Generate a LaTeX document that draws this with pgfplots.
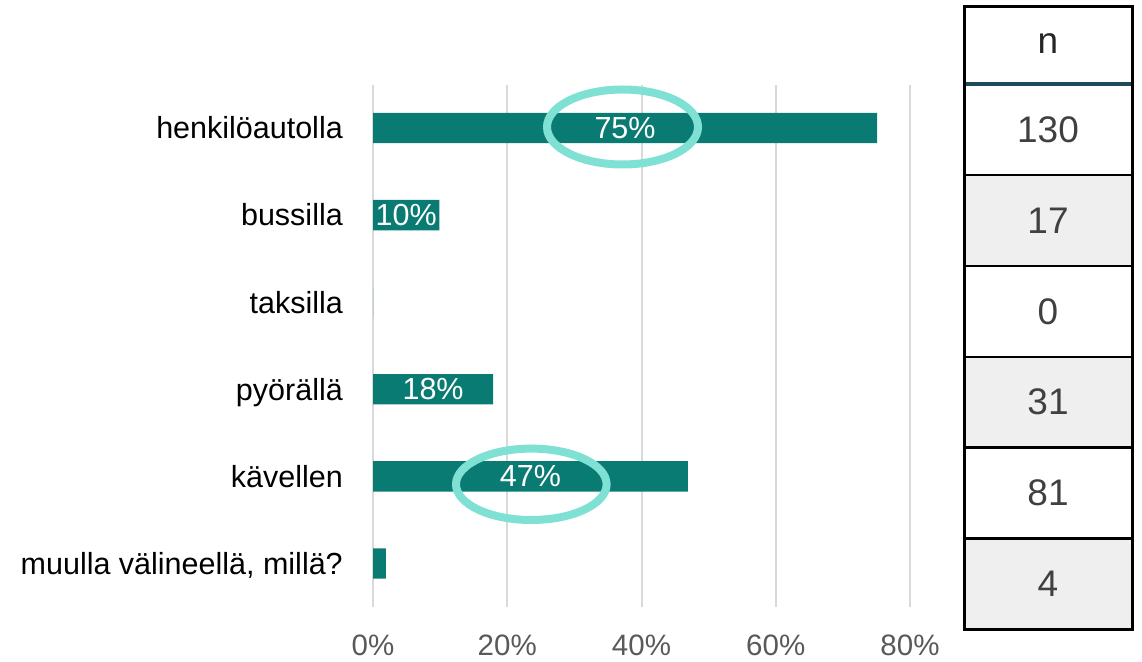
\documentclass[border=0pt]{standalone}
\usepackage{fontspec}
\setmainfont{Liberation Sans}
\usepackage{pgfplots}
\pgfplotsset{compat=1.18}
\definecolor{barteal}{HTML}{0A7B73}
\definecolor{ring}{HTML}{7FE0D4}
\definecolor{gridc}{HTML}{D9D9D9}
\definecolor{tickc}{HTML}{595959}
\definecolor{rowgray}{HTML}{EFEFEF}
\definecolor{hdrline}{HTML}{1D4B5B}
\definecolor{tabtext}{HTML}{404040}
\begin{document}
\begin{tikzpicture}[x=1pt,y=1pt]
\useasboundingbox (0,0) rectangle (1142,661);
\begin{axis}[
  at={(373pt,54pt)}, anchor=south west, scale only axis,
  width=537pt, height=522.5pt,
  xmin=0, xmax=80, ymin=-0.5, ymax=5.5, y dir=reverse,
  axis line style={draw=none}, tick style={draw=none},
  xmajorgrids, major grid style={gridc, line width=2pt},
  xtick={0,20,40,60,80}, xticklabels={0\%,20\%,40\%,60\%,80\%},
  xticklabel style={font=\fontsize{29.5}{34}\selectfont, text=tickc, anchor=base, inner sep=0pt, yshift=-48pt},
  ytick={0,1,2,3,4,5},
  yticklabels={henkilöautolla,bussilla,taksilla,pyörällä,kävellen,{muulla välineellä, millä?}},
  yticklabel style={font=\fontsize{30.5}{36}\selectfont, text=black, anchor=base east, inner sep=0pt, xshift=-30pt, yshift=-10.8pt},
  clip=false,
]
\addplot[xbar, bar width=30.4pt, bar shift=0pt, fill=barteal, draw=none]
  coordinates {(75.1,0) (9.9,1) (0,2) (17.9,3) (46.9,4) (1.9,5)};
\addplot[draw=none, mark=none, nodes near coords, point meta=explicit symbolic,
  nodes near coords align={center},
  every node near coord/.append style={text=white, font=\fontsize{30.5}{36}\selectfont, inner sep=0pt, anchor=center}]
  coordinates {(37.55,0) [75\%] (4.95,1) [10\%] (8.95,3) [18\%] (23.45,4) [47\%]};
\end{axis}
% highlight rings
\draw[ring, line width=8pt] (622.5,534) ellipse [x radius=75.5pt, y radius=37.5pt];
\draw[ring, line width=8pt] (531.3,176.7) ellipse [x radius=75.3pt, y radius=35.7pt];
% n table
\fill[rowgray] (964,395) rectangle (1132,486);
\fill[rowgray] (964,213.5) rectangle (1132,304);
\fill[rowgray] (964,32) rectangle (1132,122.7);
\foreach \yy in {486,395,304,213.5,122.7} \draw[black, line width=2.5pt] (964,\yy) -- (1132,\yy);
\draw[hdrline, line width=4pt] (964,577) -- (1132,577);
\draw[black, line width=3pt] (964,32) rectangle (1132,654);
\begin{scope}[every node/.style={font=\fontsize{37}{44}\selectfont, text=tabtext, inner sep=0pt}]
\node[text=black!85] at (1048,617) {n};
\node at (1048,531.5) {130};
\node at (1048,440.5) {17};
\node at (1048,349.5) {0};
\node at (1048,258.75) {31};
\node at (1048,168.1) {81};
\node at (1048,77.35) {4};
\end{scope}
\end{tikzpicture}
\end{document}
